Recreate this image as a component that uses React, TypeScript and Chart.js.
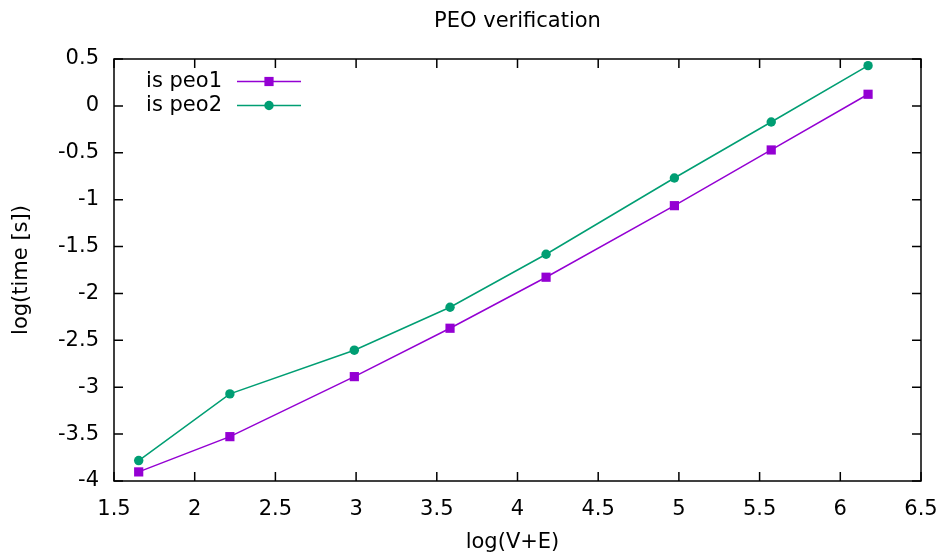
import React, { useEffect, useRef } from "react";
import { Chart, registerables } from "chart.js";

Chart.register(...registerables);

// log10 of problem size (V+E)
const logSize = [1.653, 2.218, 2.989, 3.582, 4.177, 4.972, 5.572, 6.172];
// log10 of runtime in seconds
const peo1Time = [-3.903, -3.527, -2.887, -2.371, -1.827, -1.064, -0.47, 0.124];
const peo2Time = [-3.782, -3.071, -2.605, -2.147, -1.582, -0.769, -0.172, 0.429];

const seriesNames = ["is peo1", "is peo2"];
const seriesColors = ["#9400d3", "#009e73"];

const chartTitle = "PEO verification";
const xTitle = "log(V+E)";
const yTitle = "log(time [s])";

const FONT = "DejaVu Sans";
const FS = 21;

const framePlugin = {
  id: "gnuFrame",
  afterDatasetsDraw(chart: any) {
    const { ctx, chartArea } = chart;
    const { left, right, top, bottom } = chartArea;
    const xs = chart.scales.x;
    const ys = chart.scales.y;
    ctx.save();
    ctx.strokeStyle = "#000";
    ctx.lineWidth = 1.5;
    ctx.strokeRect(left, top, right - left, bottom - top);
    const tl = 9;
    ctx.beginPath();
    xs.ticks.forEach((t: any) => {
      const px = xs.getPixelForValue(t.value);
      ctx.moveTo(px, bottom);
      ctx.lineTo(px, bottom - tl);
      ctx.moveTo(px, top);
      ctx.lineTo(px, top + tl);
    });
    ys.ticks.forEach((t: any) => {
      const py = ys.getPixelForValue(t.value);
      ctx.moveTo(left, py);
      ctx.lineTo(left + tl, py);
      ctx.moveTo(right, py);
      ctx.lineTo(right - tl, py);
    });
    ctx.stroke();

    // titles
    ctx.fillStyle = "#000";
    ctx.font = `${FS}px "${FONT}"`;
    ctx.textAlign = "center";
    ctx.textBaseline = "middle";
    ctx.fillText(chartTitle, (left + right) / 2, 22);
    ctx.fillText(xTitle, (left + right) / 2 - 5, 543);
    ctx.save();
    ctx.translate(22, (top + bottom) / 2);
    ctx.rotate(-Math.PI / 2);
    ctx.fillText(yTitle, 0, 0);
    ctx.restore();

    // key
    const rows = [81.5, 105.5];
    rows.forEach((ry, i) => {
      ctx.textAlign = "right";
      ctx.fillStyle = "#000";
      ctx.fillText(seriesNames[i], 222, ry);
      ctx.strokeStyle = seriesColors[i];
      ctx.lineWidth = 1.5;
      ctx.beginPath();
      ctx.moveTo(237, ry);
      ctx.lineTo(301, ry);
      ctx.stroke();
      ctx.fillStyle = seriesColors[i];
      if (i === 0) {
        ctx.fillRect(269 - 4.6, ry - 4.6, 9.2, 9.2);
      } else {
        ctx.beginPath();
        ctx.arc(269, ry, 4.7, 0, Math.PI * 2);
        ctx.fill();
      }
    });
    ctx.restore();
  },
};

export default function App() {
  const ref = useRef<HTMLCanvasElement | null>(null);

  useEffect(() => {
    if (!ref.current) return;
    const mk = (vals: number[], i: number) => ({
      label: seriesNames[i],
      data: logSize.map((x, k) => ({ x, y: vals[k] })),
      borderColor: seriesColors[i],
      backgroundColor: seriesColors[i],
      borderWidth: 1.5,
      pointStyle: i === 0 ? "rect" : "circle",
      pointRadius: i === 0 ? 6.5 : 4.7,
      pointBorderWidth: 0,
      tension: 0,
    });
    const chart = new Chart(ref.current, {
      type: "line",
      data: { datasets: [mk(peo1Time, 0), mk(peo2Time, 1)] as any },
      options: {
        animation: false,
        responsive: false,
        events: [],
        layout: { padding: { top: 59, right: 23, left: 0, bottom: 0 } },
        plugins: { legend: { display: false }, title: { display: false }, tooltip: { enabled: false } },
        scales: {
          x: {
            type: "linear",
            min: 1.5,
            max: 6.5,
            border: { display: false },
            grid: { display: false, drawTicks: false },
            ticks: {
              stepSize: 0.5,
              padding: 16,
              color: "#000",
              font: { family: FONT, size: FS },
              maxRotation: 0,
              callback: (v: any) => String(Number(v)),
            },
            afterFit: (s: any) => {
              s.height = 76;
              s.paddingLeft = 0;
              s.paddingRight = 0;
            },
          },
          y: {
            type: "linear",
            min: -4,
            max: 0.5,
            border: { display: false },
            grid: { display: false, drawTicks: false },
            ticks: {
              stepSize: 0.5,
              padding: 15,
              color: "#000",
              font: { family: FONT, size: FS },
              callback: (v: any) => String(Number(v)),
            },
            afterFit: (s: any) => {
              s.width = 114;
              s.paddingTop = 0;
              s.paddingBottom = 0;
            },
          },
        },
      },
      plugins: [framePlugin],
    });
    return () => chart.destroy();
  }, []);

  return (
    <div style={{ position: "fixed", left: 0, top: 0, width: 944, height: 557, background: "#fff" }}>
      <canvas ref={ref} width={944} height={557} style={{ width: 944, height: 557, display: "block" }} />
    </div>
  );
}
